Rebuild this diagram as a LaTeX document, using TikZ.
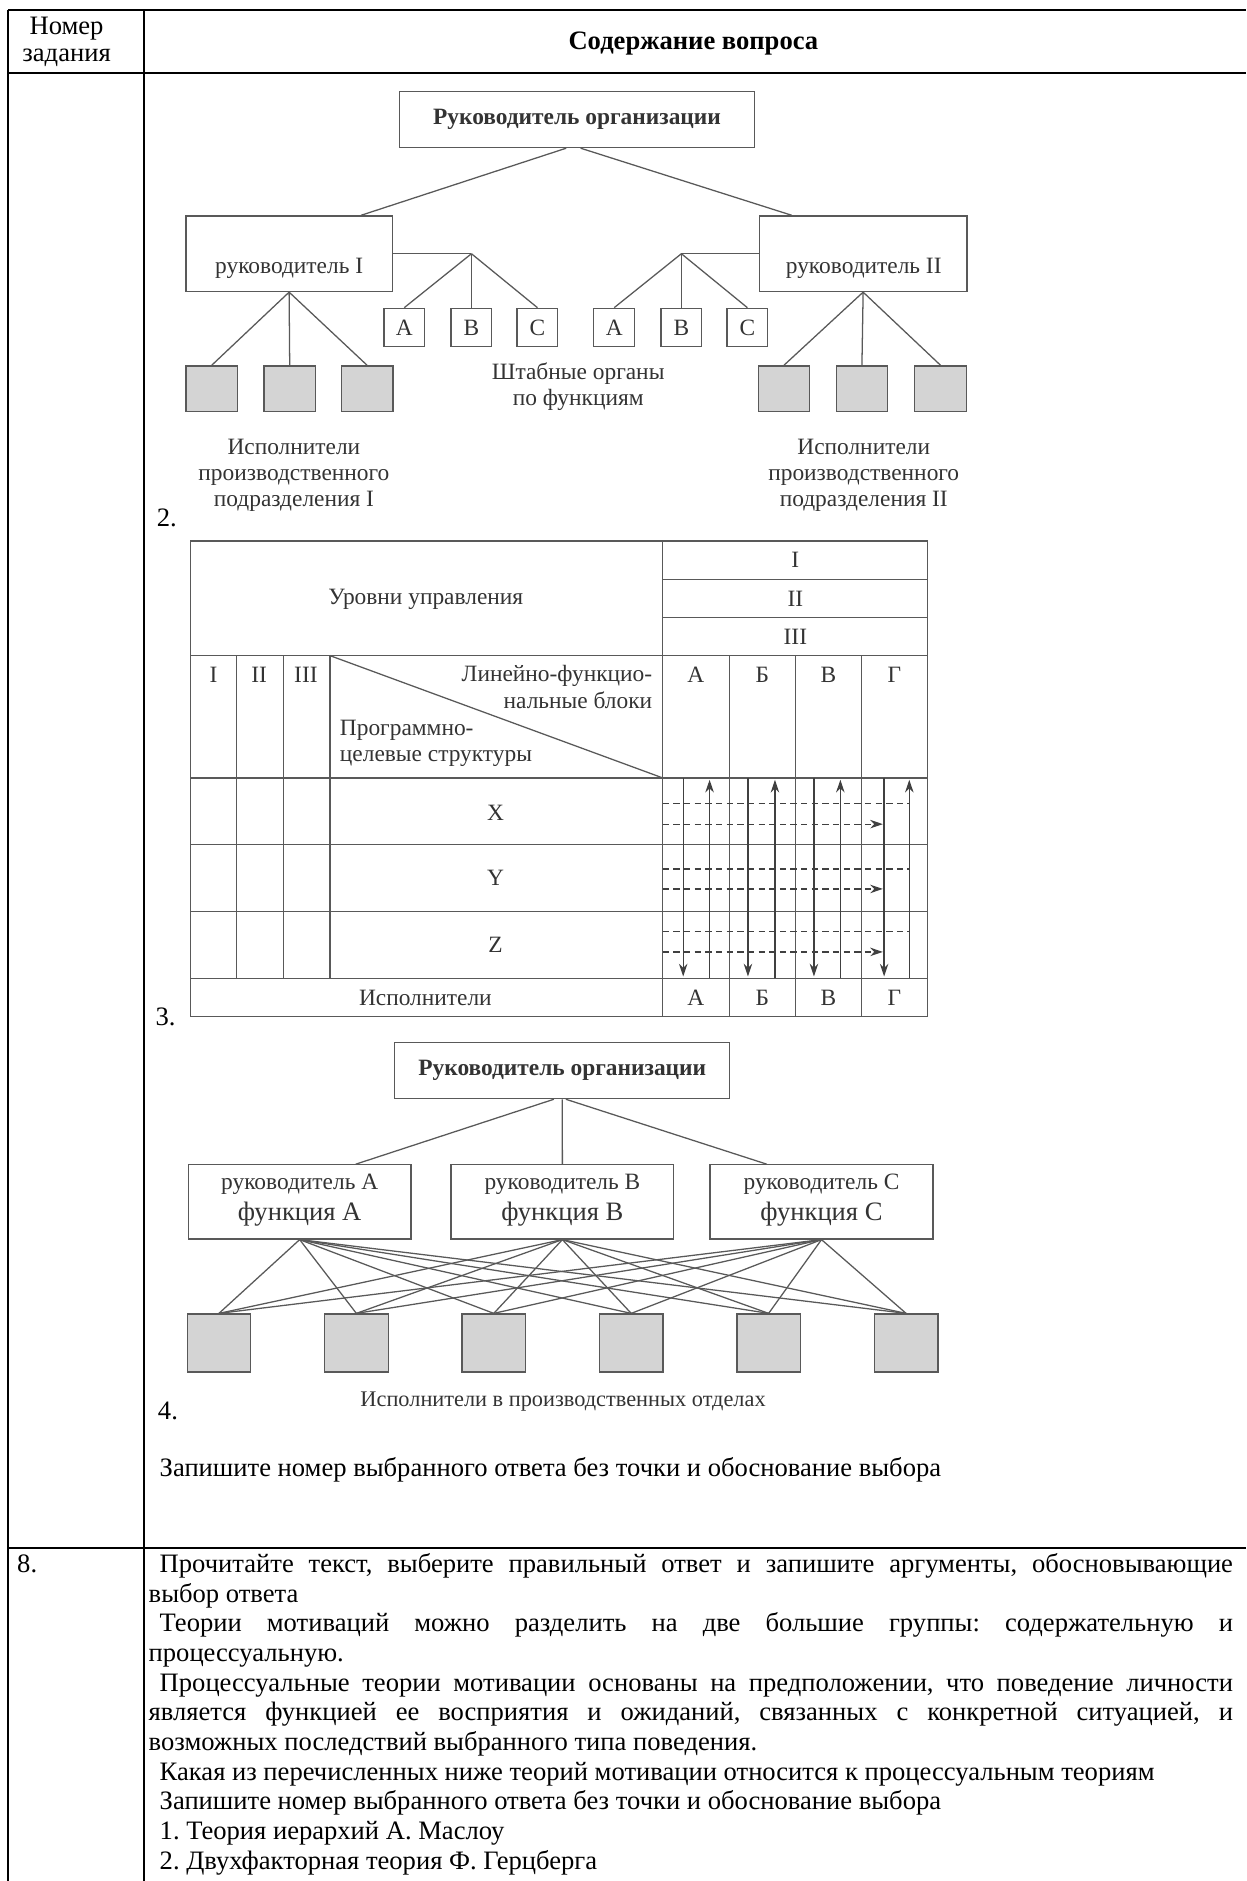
\documentclass[tikz,border=0pt]{standalone}
\usepackage{fontspec}
\setmainfont{Liberation Serif}
\usetikzlibrary{arrows.meta,calc}
\definecolor{linegray}{gray}{0.35}
\definecolor{boxgray}{gray}{0.83}
\definecolor{textgray}{gray}{0.2}
\newlength{\pxlen}
\setlength{\pxlen}{0.564pt}
\newcommand{\jline}[2]{\makebox[#1\pxlen][s]{#2}}
\frenchspacing

\tikzset{
  box/.style 2 args={draw=linegray, line width=0.6pt, minimum width=#1*\pxlen, minimum height=#2*\pxlen, inner sep=0pt},
  execbox/.style 2 args={box={#1}{#2}, fill=boxgray},
  lbl/.style={font=\fontsize{11}{12.3}\selectfont, text=textgray, inner sep=0pt, align=center},
  boldlbl/.style={lbl, font=\fontsize{11}{12.3}\selectfont\bfseries},
  doc/.style={font=\fontsize{12.5}{14.4}\selectfont, inner sep=0pt, anchor=base west},
  link/.style={draw=linegray, line width=0.6pt},
  tabline/.style={draw=linegray, line width=0.6pt},
  flow/.style={draw=black!75, line width=0.6pt, -{Stealth[length=6pt,width=4pt]}},
  cross/.style={draw=black!75, line width=0.6pt, dash pattern=on 3pt off 2pt},
}

\begin{document}
\begin{tikzpicture}[x=0.564pt, y=-0.564pt]
  \useasboundingbox (0,0) rectangle (1039,1568);

  % outer table
  \draw[line width=0.8pt] (6.5,8.5) -- (1039,8.5) (6.5,61) -- (1039,61) (6.5,1290.5) -- (1039,1290.5);
  \draw[line width=0.8pt] (6.5,8.5) -- (6.5,1568) (120.3,8.5) -- (120.3,1568);
  \node[doc, anchor=center] (hnum) at (55.5,24) {Номер};
  \node[doc, anchor=center] (hzad) at (55.5,48) {задания};
  \node[doc, anchor=center, font=\fontsize{12.5}{14.4}\selectfont\bfseries] (hcont) at (578,36) {Содержание вопроса};

  % variant 2
  \node[box={296}{47}, boldlbl] (org2) at (481,99.5) {Руководитель организации};
  \node[box={172}{63}] (ruk1) at (241,211.5) {};
  \node[lbl] (ruk1t) at (241,224) {руководитель I};
  \node[box={173}{63}] (ruk2) at (719.5,211.5) {};
  \node[lbl] (ruk2t) at (720,224) {руководитель II};
  \draw[link] ([xshift=-9*\pxlen]org2.south) -- ([xshift=60*\pxlen]ruk1.north);
  \draw[link] ([xshift=3*\pxlen]org2.south) -- ([xshift=-59.5*\pxlen]ruk2.north);
  \foreach \nm/\x/\txt in {sa1/337/A, sb1/393/B, sc1/448/C, sa2/512/A, sb2/568/B, sc2/623/C}
    \node[box={34}{32}, lbl] (\nm) at (\x,273) {\txt};
  \coordinate (fan1) at (393,211.5);
  \coordinate (fan2) at (568,211.5);
  \draw[link] (ruk1.east) -- (fan1);
  \draw[link] (ruk2.west) -- (fan2);
  \foreach \nm in {sa1,sb1,sc1} \draw[link] (fan1) -- (\nm.north);
  \foreach \nm in {sa2,sb2,sc2} \draw[link] (fan2) -- (\nm.north);
  \foreach \nm/\x in {e1/176.5, e2/241.5, e3/306, e4/653.5, e5/718.5, e6/784}
    \node[execbox={43}{38}] (\nm) at (\x,324) {};
  \foreach \nm in {e1,e2,e3} \draw[link] (ruk1.south) -- (\nm.north);
  \foreach \nm in {e4,e5,e6} \draw[link] (ruk2.south) -- (\nm.north);
  \node[lbl] (staff) at (482,322) {Штабные органы\\по функциям};
  \node[lbl] (exec1) at (245,396) {Исполнители\\производственного\\подразделения I};
  \node[lbl] (exec2) at (720,396) {Исполнители\\производственного\\подразделения II};
  \node[doc, anchor=center] (n2) at (139,432) {2.};

  % variant 3
  \draw[tabline] (158.5,451) rectangle (773,847.5);
  \draw[tabline] (552.5,451) -- (552.5,847.5);
  \draw[tabline] (552.5,483) -- (773,483) (552.5,515) -- (773,515);
  \foreach \y in {546.5,648.5,704,760,815.5} \draw[tabline] (158.5,\y) -- (773,\y);
  \foreach \x in {197,236.3,275} \draw[tabline] (\x,546.5) -- (\x,815.5);
  \foreach \x in {608,663,718} \draw[tabline] (\x,546.5) -- (\x,847.5);
  \draw[tabline] (275,546.5) -- (552.5,648.5);
  \foreach \x in {569.5,623.5,678.5,737} \draw[flow] (\x,648.5) -- (\x,814);
  \foreach \x in {591.5,646,700.5,758} \draw[flow] (\x,815.5) -- (\x,650);
  \foreach \y in {670,724.5,776.5} \draw[cross] (552.5,\y) -- (758,\y);
  \foreach \y in {687,741,793.5} \draw[cross, -{Stealth[length=6pt,width=4pt]}] (552.5,\y) -- (736,\y);
  \node[lbl] (lev) at (355,500) {Уровни управления};
  \foreach \nm/\y/\txt in {lv1/467/I, lv2/499/II, lv3/531/III}
    \node[lbl] (\nm) at (663,\y) {\txt};
  \foreach \nm/\x/\txt in {lc1/178/I, lc2/216/II, lc3/255/III}
    \node[lbl] (\nm) at (\x,562.5) {\txt};
  \node[lbl, align=right, anchor=north east] (lfb) at (544,554.5) {Линейно-функцио-\\нальные блоки};
  \node[lbl, align=left, anchor=north west] (pcs) at (283,600) {Программно-\\целевые структуры};
  \foreach \nm/\x/\txt in {ha/580/А, hb/635.5/Б, hc/690.5/В, hd/745.5/Г}
    \node[lbl] (\nm) at (\x,562.5) {\txt};
  \foreach \nm/\x/\txt in {ba/580/А, bb/635.5/Б, bc/690.5/В, bd/745.5/Г}
    \node[lbl] (\nm) at (\x,832) {\txt};
  \node[lbl] (rx) at (413,677.5) {X};
  \node[lbl] (ry) at (413,732) {Y};
  \node[lbl] (rz) at (413,787.5) {Z};
  \node[lbl] (isp) at (354.6,832) {Исполнители};
  \node[doc, anchor=center] (n3) at (138,848) {3.};

  % variant 4
  \node[box={279.4}{46.8}, boldlbl] (org4) at (468.7,892.4) {Руководитель организации};
  \foreach \nm/\x/\txt in {mA/249.8/A, mB/468.8/B, mC/684.8/C} {
    \node[box={185.7}{61.8}] (\nm) at (\x,1001.9) {};
    \node[lbl] (\nm-r) at (\x,987.5) {руководитель \txt};
    \node[lbl, font=\fontsize{12.5}{14}\selectfont] (\nm-f) at (\x,1012.5) {функция \txt};
  }
  \draw[link] ([xshift=-7*\pxlen]org4.south) -- ($(mA.north west)!0.75!(mA.north east)$);
  \draw[link] (org4.south) -- (mB.north);
  \draw[link] ([xshift=3*\pxlen]org4.south) -- ($(mC.north west)!0.256!(mC.north east)$);
  \foreach \i in {0,...,5}
    \node[execbox={53}{48.3}] (w\i) at ({182.5+114.56*\i},1119.5) {};
  \foreach \m in {mA,mB,mC}
    \foreach \i in {0,...,5} \draw[link] (\m.south) -- (w\i.north);
  \node[lbl, font=\fontsize{10.5}{12}\selectfont] (ispo) at (469.4,1168.6) {Исполнители в производственных отделах};
  \node[doc, anchor=center] (n4) at (140,1176) {4.};
  \node[doc] (ask) at (132.8,1231) {Запишите номер выбранного ответа без точки и обоснование выбора};

  % task 8
  \node[doc] (n8) at (14,1311) {8.};
  \node[doc] (q1) at (132.8,1311) {\jline{894.7}{Прочитайте текст, выберите правильный ответ и запишите аргументы, обосновывающие}};
  \node[doc] (q2) at (123.6,1335.7) {выбор ответа};
  \node[doc] (q3) at (132.8,1360.4) {\jline{894.7}{Теории мотиваций можно разделить на две большие группы: содержательную и}};
  \node[doc] (q4) at (123.6,1385.1) {процессуальную.};
  \node[doc] (q5) at (132.8,1409.8) {\jline{894.7}{Процессуальные теории мотивации основаны на предположении, что поведение личности}};
  \node[doc] (q6) at (123.6,1434.5) {\jline{903.9}{является функцией ее восприятия и ожиданий, связанных с конкретной ситуацией, и}};
  \node[doc] (q7) at (123.6,1459.2) {возможных последствий выбранного типа поведения.};
  \node[doc] (q8) at (132.8,1483.9) {Какая из перечисленных ниже теорий мотивации относится к процессуальным теориям};
  \node[doc] (q9) at (132.8,1508.6) {Запишите номер выбранного ответа без точки и обоснование выбора};
  \node[doc] (q10) at (132.8,1533.3) {1. Теория иерархий А. Маслоу};
  \node[doc] (q11) at (132.8,1558) {2. Двухфакторная теория Ф. Герцберга};
\end{tikzpicture}
\end{document}
